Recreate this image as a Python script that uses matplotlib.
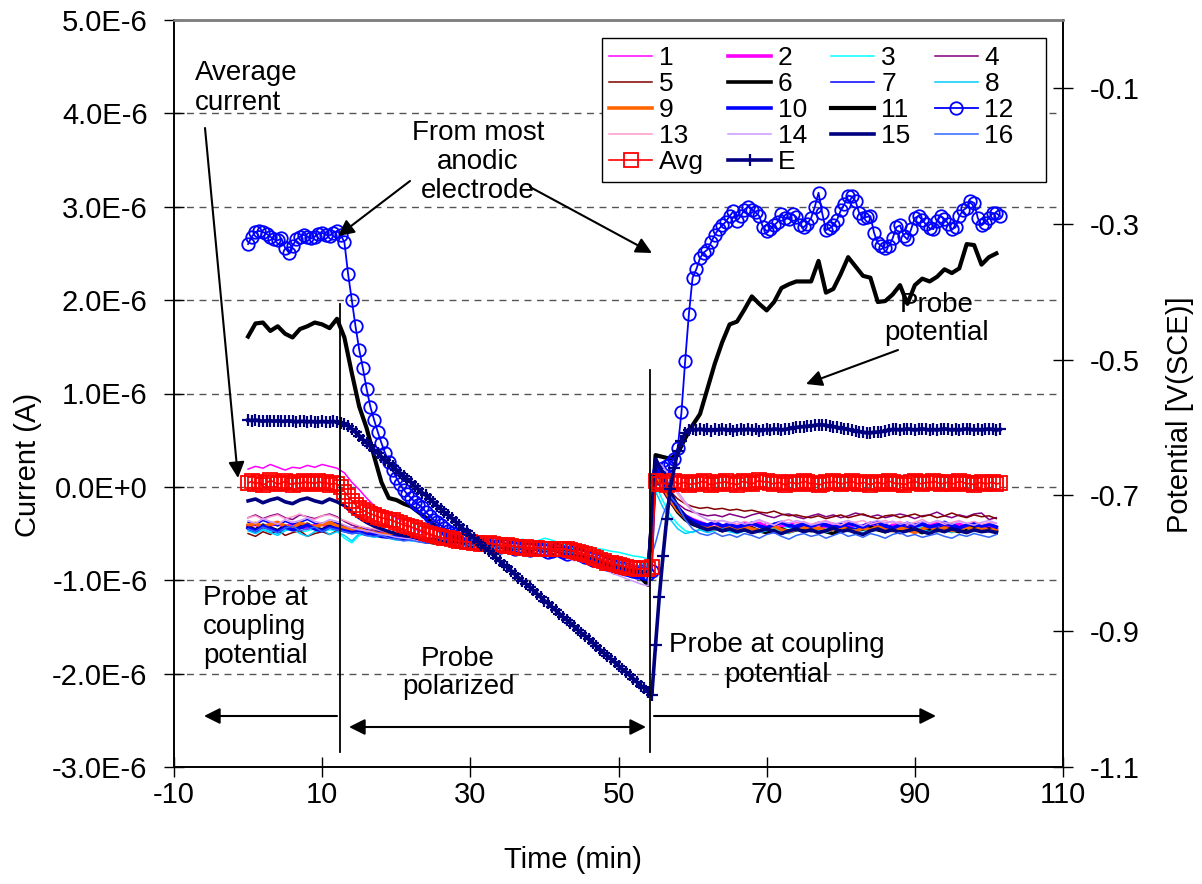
import numpy as np
import matplotlib
matplotlib.use("Agg")
import matplotlib.pyplot as plt
from matplotlib.lines import Line2D
from matplotlib.patches import Rectangle

plt.rcParams['font.family'] = ['Liberation Sans', 'DejaVu Sans']
plt.rcParams['legend.numpoints'] = 1

# ---------------- data ----------------
# time grids (min)
t1 = np.arange(0, 102, 1.0)      # 1-min samples, 0..101
t05 = np.arange(0, 102, 0.5)     # 0.5-min samples, 0..101.5

# electrode currents (uA), 1-min samples: 0..12 | 13..54 | 55..101
s1 = [0.19,0.22,0.20,0.24,0.21,0.18,0.21,0.20,0.23,0.21,0.24,0.22,0.20,
      0.15,0.05,-0.03,-0.12,-0.20,-0.25,-0.29,-0.33,-0.38,-0.43,-0.47,-0.50,-0.53,-0.55,-0.57,-0.56,-0.58,-0.60,-0.57,-0.59,-0.61,-0.60,-0.62,-0.61,-0.63,-0.60,-0.64,-0.62,-0.65,-0.64,-0.66,-0.65,-0.68,-0.70,-0.73,-0.75,-0.79,-0.82,-0.84,-0.86,-0.88,-0.87,
      0.12,-0.05,-0.18,-0.26,-0.32,-0.36,-0.38,-0.40,-0.37,-0.41,-0.39,-0.42,-0.38,-0.40,-0.43,-0.39,-0.41,-0.44,-0.40,-0.38,-0.42,-0.45,-0.41,-0.39,-0.43,-0.40,-0.38,-0.41,-0.44,-0.40,-0.42,-0.39,-0.37,-0.41,-0.43,-0.40,-0.38,-0.42,-0.45,-0.41,-0.39,-0.40,-0.43,-0.38,-0.41,-0.44,-0.42]
s2 = [-0.42,-0.40,-0.44,-0.41,-0.39,-0.43,-0.40,-0.42,-0.45,-0.41,-0.40,-0.43,-0.41,
      -0.43,-0.45,-0.44,-0.47,-0.49,-0.48,-0.51,-0.52,-0.54,-0.53,-0.56,-0.57,-0.56,-0.58,-0.60,-0.58,-0.61,-0.62,-0.60,-0.63,-0.61,-0.64,-0.62,-0.63,-0.66,-0.64,-0.63,-0.67,-0.65,-0.68,-0.67,-0.70,-0.69,-0.72,-0.75,-0.78,-0.80,-0.84,-0.86,-0.88,-0.90,-0.92,
      0.20,0.05,-0.12,-0.24,-0.31,-0.35,-0.38,-0.41,-0.39,-0.43,-0.40,-0.42,-0.44,-0.41,-0.39,-0.43,-0.45,-0.42,-0.40,-0.44,-0.41,-0.43,-0.46,-0.42,-0.40,-0.43,-0.41,-0.44,-0.42,-0.39,-0.43,-0.45,-0.41,-0.40,-0.44,-0.42,-0.45,-0.41,-0.39,-0.42,-0.44,-0.40,-0.43,-0.41,-0.44,-0.42,-0.45]
s3 = [-0.46,-0.49,-0.45,-0.48,-0.50,-0.46,-0.44,-0.49,-0.47,-0.45,-0.48,-0.46,-0.47,
      -0.55,-0.60,-0.52,-0.50,-0.53,-0.51,-0.54,-0.55,-0.53,-0.56,-0.57,-0.55,-0.58,-0.57,-0.59,-0.58,-0.56,-0.59,-0.60,-0.58,-0.57,-0.60,-0.59,-0.58,-0.56,-0.59,-0.58,-0.55,-0.57,-0.60,-0.62,-0.61,-0.63,-0.64,-0.66,-0.67,-0.69,-0.70,-0.72,-0.74,-0.75,-0.77,
      0.02,-0.15,-0.30,-0.40,-0.47,-0.49,-0.45,-0.47,-0.44,-0.46,-0.48,-0.45,-0.43,-0.47,-0.46,-0.44,-0.48,-0.45,-0.43,-0.46,-0.48,-0.44,-0.46,-0.45,-0.43,-0.47,-0.45,-0.44,-0.46,-0.48,-0.45,-0.43,-0.46,-0.44,-0.47,-0.45,-0.43,-0.46,-0.48,-0.44,-0.46,-0.45,-0.47,-0.44,-0.46,-0.48,-0.45]
s4 = [-0.33,-0.30,-0.34,-0.31,-0.29,-0.33,-0.35,-0.30,-0.32,-0.34,-0.31,-0.29,-0.32,
      -0.37,-0.41,-0.43,-0.44,-0.46,-0.48,-0.49,-0.50,-0.52,-0.53,-0.54,-0.55,-0.57,-0.58,-0.58,-0.60,-0.59,-0.61,-0.62,-0.60,-0.63,-0.62,-0.64,-0.63,-0.65,-0.64,-0.66,-0.65,-0.67,-0.66,-0.69,-0.70,-0.71,-0.73,-0.75,-0.78,-0.81,-0.84,-0.86,-0.88,-0.90,-0.91,
      0.15,0.02,-0.10,-0.18,-0.24,-0.27,-0.29,-0.31,-0.30,-0.32,-0.29,-0.31,-0.33,-0.30,-0.28,-0.31,-0.33,-0.30,-0.29,-0.32,-0.34,-0.31,-0.29,-0.32,-0.30,-0.33,-0.31,-0.28,-0.30,-0.32,-0.30,-0.33,-0.31,-0.29,-0.31,-0.34,-0.31,-0.30,-0.27,-0.31,-0.33,-0.30,-0.32,-0.29,-0.28,-0.35,-0.33]
s5 = [-0.50,-0.53,-0.48,-0.51,-0.46,-0.52,-0.49,-0.47,-0.53,-0.50,-0.48,-0.51,-0.47,
      -0.45,-0.47,-0.48,-0.50,-0.51,-0.52,-0.53,-0.55,-0.54,-0.56,-0.57,-0.58,-0.57,-0.59,-0.60,-0.61,-0.60,-0.62,-0.63,-0.62,-0.64,-0.63,-0.64,-0.66,-0.65,-0.66,-0.67,-0.66,-0.68,-0.69,-0.70,-0.71,-0.72,-0.74,-0.76,-0.79,-0.82,-0.84,-0.86,-0.88,-0.89,-0.90,
      0.18,0.08,-0.05,-0.13,-0.18,-0.21,-0.23,-0.22,-0.24,-0.23,-0.25,-0.24,-0.26,-0.25,-0.27,-0.28,-0.26,-0.29,-0.31,-0.30,-0.32,-0.33,-0.31,-0.34,-0.32,-0.30,-0.33,-0.31,-0.29,-0.32,-0.34,-0.31,-0.30,-0.33,-0.31,-0.29,-0.32,-0.30,-0.33,-0.31,-0.28,-0.31,-0.33,-0.30,-0.32,-0.31,-0.34]
s6 = [-0.43,-0.46,-0.41,-0.44,-0.47,-0.42,-0.45,-0.43,-0.40,-0.44,-0.46,-0.42,-0.44,
      -0.46,-0.48,-0.47,-0.50,-0.51,-0.53,-0.52,-0.55,-0.56,-0.55,-0.57,-0.58,-0.60,-0.59,-0.61,-0.62,-0.61,-0.63,-0.62,-0.64,-0.65,-0.63,-0.66,-0.65,-0.67,-0.66,-0.68,-0.67,-0.69,-0.70,-0.71,-0.70,-0.73,-0.75,-0.77,-0.80,-0.83,-0.86,-0.88,-0.90,-0.92,-0.95,
      0.10,-0.02,-0.15,-0.27,-0.35,-0.40,-0.43,-0.45,-0.44,-0.47,-0.45,-0.48,-0.46,-0.44,-0.47,-0.49,-0.46,-0.45,-0.48,-0.46,-0.44,-0.47,-0.45,-0.48,-0.50,-0.46,-0.44,-0.47,-0.45,-0.43,-0.46,-0.48,-0.45,-0.47,-0.44,-0.46,-0.49,-0.45,-0.47,-0.44,-0.46,-0.48,-0.45,-0.43,-0.47,-0.45,-0.48]
s7 = [-0.38,-0.41,-0.36,-0.39,-0.42,-0.37,-0.40,-0.38,-0.35,-0.39,-0.41,-0.37,-0.39,
      -0.42,-0.45,-0.43,-0.46,-0.48,-0.47,-0.50,-0.52,-0.51,-0.54,-0.55,-0.57,-0.56,-0.58,-0.57,-0.60,-0.59,-0.61,-0.63,-0.60,-0.62,-0.64,-0.61,-0.63,-0.65,-0.62,-0.64,-0.66,-0.64,-0.67,-0.68,-0.67,-0.70,-0.72,-0.74,-0.77,-0.79,-0.82,-0.85,-0.86,-0.88,-0.89,
      0.25,0.12,-0.05,-0.20,-0.30,-0.36,-0.40,-0.42,-0.39,-0.43,-0.41,-0.44,-0.40,-0.38,-0.42,-0.45,-0.41,-0.39,-0.43,-0.41,-0.38,-0.42,-0.44,-0.40,-0.42,-0.39,-0.43,-0.45,-0.41,-0.38,-0.42,-0.40,-0.43,-0.41,-0.44,-0.40,-0.38,-0.42,-0.44,-0.41,-0.39,-0.43,-0.40,-0.42,-0.44,-0.41,-0.43]
s8 = [-0.47,-0.50,-0.46,-0.49,-0.52,-0.47,-0.45,-0.50,-0.53,-0.48,-0.46,-0.51,-0.48,
      -0.52,-0.58,-0.50,-0.52,-0.54,-0.53,-0.55,-0.57,-0.56,-0.58,-0.57,-0.60,-0.59,-0.61,-0.60,-0.62,-0.61,-0.63,-0.62,-0.64,-0.63,-0.61,-0.64,-0.62,-0.60,-0.63,-0.61,-0.59,-0.62,-0.64,-0.65,-0.66,-0.67,-0.69,-0.70,-0.72,-0.74,-0.76,-0.78,-0.80,-0.81,-0.83,
      -0.05,-0.22,-0.35,-0.45,-0.50,-0.48,-0.46,-0.49,-0.47,-0.45,-0.48,-0.50,-0.47,-0.45,-0.49,-0.47,-0.44,-0.48,-0.50,-0.46,-0.48,-0.45,-0.47,-0.49,-0.46,-0.44,-0.48,-0.46,-0.49,-0.47,-0.45,-0.48,-0.46,-0.44,-0.47,-0.49,-0.46,-0.48,-0.45,-0.47,-0.49,-0.46,-0.44,-0.48,-0.46,-0.47,-0.49]
s9 = [-0.41,-0.39,-0.43,-0.40,-0.38,-0.42,-0.44,-0.39,-0.41,-0.43,-0.40,-0.38,-0.42,
      -0.44,-0.46,-0.45,-0.48,-0.49,-0.51,-0.50,-0.53,-0.54,-0.53,-0.56,-0.57,-0.58,-0.57,-0.60,-0.59,-0.61,-0.62,-0.61,-0.63,-0.62,-0.64,-0.63,-0.65,-0.64,-0.66,-0.65,-0.67,-0.66,-0.68,-0.69,-0.70,-0.71,-0.73,-0.76,-0.78,-0.81,-0.84,-0.86,-0.87,-0.89,-0.90,
      0.14,0.00,-0.14,-0.25,-0.33,-0.38,-0.41,-0.43,-0.45,-0.42,-0.44,-0.46,-0.43,-0.45,-0.47,-0.44,-0.42,-0.46,-0.48,-0.45,-0.43,-0.46,-0.44,-0.47,-0.45,-0.43,-0.46,-0.48,-0.44,-0.46,-0.43,-0.45,-0.47,-0.44,-0.46,-0.49,-0.45,-0.43,-0.46,-0.44,-0.47,-0.45,-0.43,-0.46,-0.44,-0.47,-0.45]
s10 = [-0.44,-0.47,-0.42,-0.45,-0.48,-0.43,-0.46,-0.44,-0.41,-0.45,-0.47,-0.43,-0.45,
       -0.47,-0.49,-0.48,-0.51,-0.50,-0.53,-0.54,-0.53,-0.56,-0.55,-0.57,-0.59,-0.58,-0.60,-0.59,-0.61,-0.60,-0.62,-0.61,-0.63,-0.60,-0.62,-0.64,-0.61,-0.63,-0.66,-0.62,-0.65,-0.68,-0.66,-0.69,-0.71,-0.70,-0.73,-0.75,-0.78,-0.82,-0.84,-0.87,-0.88,-0.90,-0.91,
       0.22,0.08,-0.10,-0.22,-0.31,-0.36,-0.39,-0.41,-0.38,-0.42,-0.40,-0.43,-0.41,-0.39,-0.42,-0.44,-0.40,-0.38,-0.41,-0.43,-0.40,-0.42,-0.39,-0.41,-0.44,-0.42,-0.39,-0.41,-0.43,-0.40,-0.38,-0.42,-0.44,-0.41,-0.39,-0.42,-0.40,-0.43,-0.41,-0.38,-0.42,-0.44,-0.41,-0.39,-0.42,-0.40,-0.43]
s11 = [1.61,1.75,1.76,1.67,1.72,1.64,1.60,1.69,1.72,1.76,1.74,1.70,1.80,
       1.60,1.22,0.86,0.63,0.33,0.05,-0.12,-0.14,-0.18,-0.21,-0.27,-0.33,-0.40,-0.46,-0.51,-0.55,-0.57,-0.60,-0.61,-0.63,-0.62,-0.64,-0.66,-0.65,-0.67,-0.68,-0.66,-0.69,-0.70,-0.68,-0.71,-0.73,-0.72,-0.76,-0.80,-0.83,-0.82,-0.86,-0.90,-0.94,-0.97,-1.05,
       0.34,0.32,0.30,0.36,0.52,0.66,0.78,1.05,1.32,1.55,1.74,1.77,1.90,2.04,1.96,1.89,1.98,2.13,2.17,2.20,2.20,2.20,2.42,2.08,2.12,2.28,2.46,2.36,2.26,2.24,1.98,1.99,2.06,2.16,1.96,2.16,2.23,2.20,2.25,2.33,2.29,2.34,2.60,2.59,2.38,2.46,2.50]
s13 = [-0.33,-0.31,-0.35,-0.32,-0.30,-0.34,-0.32,-0.29,-0.33,-0.35,-0.31,-0.30,-0.33,
       -0.36,-0.39,-0.42,-0.44,-0.45,-0.47,-0.49,-0.50,-0.52,-0.53,-0.55,-0.56,-0.55,-0.57,-0.59,-0.58,-0.60,-0.59,-0.61,-0.60,-0.62,-0.61,-0.63,-0.62,-0.64,-0.63,-0.65,-0.64,-0.66,-0.67,-0.68,-0.69,-0.70,-0.72,-0.74,-0.77,-0.80,-0.83,-0.85,-0.87,-0.88,-0.89,
       0.12,0.15,0.05,-0.08,-0.18,-0.26,-0.31,-0.35,-0.37,-0.36,-0.38,-0.40,-0.37,-0.39,-0.36,-0.38,-0.41,-0.37,-0.35,-0.39,-0.37,-0.40,-0.38,-0.36,-0.39,-0.41,-0.37,-0.38,-0.36,-0.40,-0.38,-0.36,-0.39,-0.37,-0.40,-0.38,-0.35,-0.39,-0.37,-0.40,-0.38,-0.36,-0.39,-0.37,-0.40,-0.38,-0.39]
s14 = [-0.36,-0.39,-0.34,-0.37,-0.40,-0.35,-0.38,-0.36,-0.33,-0.37,-0.39,-0.35,-0.37,
       -0.41,-0.44,-0.46,-0.47,-0.49,-0.51,-0.52,-0.54,-0.55,-0.56,-0.58,-0.57,-0.59,-0.61,-0.60,-0.62,-0.64,-0.62,-0.65,-0.63,-0.66,-0.68,-0.64,-0.67,-0.69,-0.66,-0.70,-0.72,-0.69,-0.73,-0.76,-0.79,-0.78,-0.82,-0.85,-0.88,-0.92,-0.95,-0.98,-1.01,-1.04,-1.06,
       0.28,0.22,0.10,-0.05,-0.16,-0.25,-0.31,-0.35,-0.38,-0.36,-0.39,-0.37,-0.40,-0.38,-0.35,-0.39,-0.41,-0.37,-0.39,-0.36,-0.38,-0.41,-0.39,-0.37,-0.40,-0.38,-0.36,-0.39,-0.42,-0.38,-0.36,-0.39,-0.37,-0.40,-0.38,-0.41,-0.37,-0.39,-0.36,-0.38,-0.40,-0.37,-0.39,-0.41,-0.38,-0.36,-0.39]
s15 = [-0.15,-0.13,-0.17,-0.14,-0.12,-0.16,-0.18,-0.14,-0.12,-0.15,-0.17,-0.13,-0.16,
       -0.20,-0.27,-0.33,-0.38,-0.42,-0.45,-0.48,-0.50,-0.52,-0.53,-0.55,-0.57,-0.56,-0.58,-0.60,-0.59,-0.61,-0.63,-0.62,-0.64,-0.63,-0.65,-0.64,-0.66,-0.65,-0.67,-0.66,-0.68,-0.67,-0.69,-0.70,-0.71,-0.73,-0.75,-0.77,-0.80,-0.83,-0.85,-0.87,-0.89,-0.91,-0.92,
       0.30,0.15,-0.05,-0.22,-0.33,-0.39,-0.43,-0.46,-0.44,-0.47,-0.45,-0.48,-0.46,-0.49,-0.47,-0.45,-0.48,-0.50,-0.47,-0.45,-0.48,-0.46,-0.49,-0.47,-0.44,-0.48,-0.46,-0.49,-0.51,-0.47,-0.45,-0.48,-0.46,-0.49,-0.47,-0.45,-0.48,-0.50,-0.46,-0.48,-0.45,-0.47,-0.49,-0.46,-0.48,-0.47,-0.49]
s16 = [-0.45,-0.48,-0.43,-0.46,-0.49,-0.44,-0.42,-0.47,-0.45,-0.43,-0.48,-0.44,-0.46,
       -0.48,-0.50,-0.49,-0.52,-0.53,-0.52,-0.55,-0.56,-0.58,-0.57,-0.59,-0.60,-0.59,-0.61,-0.62,-0.61,-0.63,-0.62,-0.64,-0.63,-0.65,-0.64,-0.63,-0.66,-0.65,-0.67,-0.66,-0.68,-0.67,-0.69,-0.70,-0.71,-0.72,-0.74,-0.76,-0.78,-0.80,-0.82,-0.83,-0.84,-0.85,-0.86,
       -0.60,-0.30,-0.10,-0.20,-0.35,-0.45,-0.50,-0.52,-0.49,-0.53,-0.51,-0.54,-0.50,-0.52,-0.55,-0.51,-0.49,-0.53,-0.56,-0.52,-0.50,-0.53,-0.51,-0.55,-0.52,-0.49,-0.53,-0.51,-0.54,-0.50,-0.52,-0.55,-0.51,-0.49,-0.53,-0.51,-0.54,-0.52,-0.50,-0.53,-0.55,-0.51,-0.53,-0.50,-0.52,-0.54,-0.51]

# 0.5-min samples: 0..12.0 | 12.5..54.5 | 55.0..101.5
s12 = [2.60,2.68,2.73,2.74,2.73,2.71,2.68,2.65,2.64,2.66,2.56,2.51,2.58,2.65,2.68,2.70,2.68,2.66,2.68,2.71,2.72,2.70,2.69,2.72,2.74,
       2.70,2.62,2.28,2.00,1.72,1.47,1.27,1.05,0.86,0.72,0.59,0.47,0.36,0.27,0.18,0.10,0.03,-0.03,-0.08,-0.12,
       -0.16,-0.19,-0.22,-0.27,-0.31,-0.35,-0.38,-0.41,-0.44,-0.47,-0.49,-0.51,-0.53,-0.55,-0.56,-0.58,-0.59,-0.60,-0.60,-0.61,
       -0.62,-0.61,-0.63,-0.64,-0.63,-0.62,-0.64,-0.66,-0.65,-0.64,-0.66,-0.68,-0.67,-0.65,-0.66,-0.68,-0.70,-0.69,-0.67,-0.68,
       -0.70,-0.72,-0.70,-0.69,-0.71,-0.73,-0.75,-0.76,-0.78,-0.77,-0.79,-0.81,-0.83,-0.84,-0.86,-0.85,-0.87,-0.88,-0.89,-0.90,
       -0.91,-0.90,-0.92,-0.93,-0.90,
       0.10,0.17,0.20,0.22,0.25,0.30,0.42,0.80,1.35,1.85,2.24,2.33,2.45,2.51,2.54,2.62,2.70,2.76,2.80,2.84,
       2.90,2.95,2.85,2.90,2.97,3.00,2.97,2.94,2.90,2.78,2.74,2.76,2.80,2.84,2.92,2.88,2.87,2.92,2.89,2.80,
       2.78,2.82,2.88,3.00,3.15,2.93,2.75,2.77,2.80,2.86,2.96,3.03,3.12,3.11,3.06,2.93,2.88,2.89,2.90,2.72,
       2.61,2.58,2.56,2.58,2.66,2.78,2.80,2.69,2.65,2.76,2.88,2.90,2.86,2.81,2.77,2.76,2.85,2.90,2.87,2.82,
       2.76,2.78,2.90,2.96,2.99,3.06,3.04,2.88,2.80,2.83,2.88,2.93,2.93,2.90]
avg = [0.04,0.06,0.03,0.05,0.02,0.04,0.07,0.05,0.03,0.04,0.06,0.04,0.02,0.05,0.03,0.06,0.04,0.05,0.03,0.06,0.04,0.05,0.02,0.04,0.03,
       0.00,-0.05,-0.10,-0.15,-0.19,-0.23,-0.25,-0.27,-0.29,-0.30,-0.32,-0.33,-0.34,-0.35,-0.36,-0.38,-0.39,-0.41,-0.42,-0.43,
       -0.44,-0.46,-0.47,-0.49,-0.50,-0.52,-0.53,-0.54,-0.55,-0.55,-0.56,-0.57,-0.58,-0.58,-0.59,-0.59,-0.60,-0.60,-0.61,-0.61,
       -0.60,-0.61,-0.62,-0.62,-0.63,-0.62,-0.63,-0.64,-0.64,-0.65,-0.64,-0.66,-0.65,-0.65,-0.66,-0.66,-0.67,-0.66,-0.67,-0.67,
       -0.66,-0.67,-0.68,-0.69,-0.70,-0.71,-0.72,-0.73,-0.75,-0.76,-0.78,-0.79,-0.81,-0.82,-0.83,-0.84,-0.85,-0.86,-0.87,-0.87,
       -0.88,-0.88,-0.87,-0.88,-0.86,
       0.06,0.03,0.05,0.02,0.04,0.06,0.03,0.04,0.05,0.02,0.04,0.03,0.05,0.06,0.04,0.02,0.03,0.05,0.04,0.06,
       0.03,0.04,0.02,0.05,0.06,0.04,0.03,0.05,0.07,0.05,0.06,0.04,0.03,0.05,0.04,0.02,0.04,0.05,0.03,0.04,
       0.06,0.05,0.03,0.04,0.02,0.03,0.05,0.04,0.06,0.05,0.03,0.04,0.05,0.06,0.04,0.03,0.05,0.04,0.02,0.04,
       0.05,0.03,0.04,0.06,0.05,0.03,0.04,0.02,0.04,0.05,0.06,0.04,0.03,0.05,0.04,0.06,0.05,0.03,0.04,0.05,
       0.03,0.04,0.06,0.05,0.03,0.04,0.02,0.04,0.05,0.03,0.04,0.05,0.03,0.04]
# probe potential E (V vs SCE), 0.5-min samples
E = [-0.589,-0.590,-0.589,-0.590,-0.591,-0.590,-0.590,-0.591,-0.590,-0.591,-0.591,-0.590,-0.591,-0.592,-0.591,-0.591,-0.592,-0.591,-0.592,-0.592,-0.591,-0.592,-0.592,-0.591,-0.592,
     -0.593,-0.595,-0.598,-0.602,-0.607,-0.612,-0.618,-0.623,-0.628,-0.633,-0.638,-0.643,-0.648,-0.653,-0.657,-0.662,-0.667,-0.672,-0.676,-0.681,
     -0.686,-0.691,-0.696,-0.700,-0.705,-0.710,-0.715,-0.720,-0.725,-0.729,-0.734,-0.739,-0.744,-0.749,-0.753,-0.758,-0.763,-0.768,-0.773,-0.778,
     -0.782,-0.787,-0.792,-0.797,-0.802,-0.806,-0.811,-0.816,-0.821,-0.826,-0.830,-0.835,-0.840,-0.845,-0.850,-0.855,-0.859,-0.864,-0.869,-0.874,
     -0.879,-0.883,-0.888,-0.893,-0.898,-0.903,-0.907,-0.912,-0.917,-0.922,-0.927,-0.932,-0.936,-0.941,-0.946,-0.951,-0.956,-0.960,-0.965,-0.970,
     -0.975,-0.980,-0.984,-0.989,-0.994,
     -0.920,-0.850,-0.790,-0.735,-0.690,-0.660,-0.635,-0.620,-0.608,-0.604,-0.603,-0.604,-0.602,-0.604,-0.603,-0.605,-0.603,-0.604,-0.602,-0.604,
     -0.603,-0.605,-0.604,-0.603,-0.604,-0.602,-0.604,-0.603,-0.605,-0.604,-0.603,-0.604,-0.602,-0.603,-0.604,-0.603,-0.602,-0.601,-0.600,-0.599,
     -0.599,-0.598,-0.598,-0.597,-0.596,-0.596,-0.597,-0.598,-0.599,-0.600,-0.601,-0.602,-0.603,-0.604,-0.605,-0.606,-0.607,-0.608,-0.608,-0.607,
     -0.607,-0.606,-0.605,-0.604,-0.603,-0.603,-0.604,-0.603,-0.602,-0.603,-0.604,-0.603,-0.602,-0.603,-0.604,-0.603,-0.604,-0.603,-0.602,-0.603,
     -0.604,-0.603,-0.604,-0.603,-0.602,-0.603,-0.604,-0.603,-0.604,-0.603,-0.602,-0.603,-0.604,-0.603]

x_ticks = [-10, 10, 30, 50, 70, 90, 110]
y_ticks = [-3, -2, -1, 0, 1, 2, 3, 4, 5]
y_tick_labels = ["-3.0E-6", "-2.0E-6", "-1.0E-6", "0.0E+0", "1.0E-6", "2.0E-6", "3.0E-6", "4.0E-6", "5.0E-6"]
e_ticks = [-1.1, -0.9, -0.7, -0.5, -0.3, -0.1]
e_tick_labels = ["-1.1", "-0.9", "-0.7", "-0.5", "-0.3", "-0.1"]

# ---------------- figure ----------------
W, H = 1202, 884
fig = plt.figure(figsize=(W / 100, H / 100), dpi=100)
L, R, T, B = 174, 1063, 20, 767
ax = fig.add_axes([L / W, 1 - B / H, (R - L) / W, (B - T) / H])
ax2 = ax.twinx()

def draw(a, t, y, **kw):
    n = min(len(t), len(y))
    return a.plot(t[:n], y[:n], **kw)[0]

thin, thick = 1.1, 2.6
styles = {
    1: dict(color='#FF00FF', lw=thin), 2: dict(color='#FF00FF', lw=thick),
    3: dict(color='#00FFFF', lw=thin), 4: dict(color='#800080', lw=thin),
    5: dict(color='#800000', lw=thin), 6: dict(color='black', lw=thick),
    7: dict(color='#0000FF', lw=thin), 8: dict(color='#00CCFF', lw=thin),
    9: dict(color='#FF6600', lw=thick), 10: dict(color='#0000FF', lw=thick),
    11: dict(color='black', lw=3.0), 13: dict(color='#FF99CC', lw=thin),
    14: dict(color='#CC99FF', lw=thin), 15: dict(color='#000080', lw=thick),
    16: dict(color='#3366FF', lw=thin),
}
series = {1: s1, 2: s2, 3: s3, 4: s4, 5: s5, 6: s6, 7: s7, 8: s8, 9: s9, 10: s10,
          11: s11, 13: s13, 14: s14, 15: s15, 16: s16}
h = {}
for k in [1, 2, 3, 4, 5, 6, 7, 8, 9, 10, 11]:
    h[k] = draw(ax, t1, series[k], label=str(k), **styles[k])
h[12] = draw(ax, t05, s12, label='12', color='#0000FF', lw=1.3, marker='o', ms=9,
             mfc='none', mec='#0000FF', mew=1.3)
for k in [13, 14, 15, 16]:
    h[k] = draw(ax, t1, series[k], label=str(k), **styles[k])
h['Avg'] = draw(ax, t05, avg, label='Avg', color='#FF0000', lw=1.2, marker='s', ms=9.5,
                mfc='none', mec='#FF0000', mew=1.3)
h['E'] = draw(ax2, t05, E, label='E', color='#000080', lw=2.6, marker='+', ms=9, mew=1.6)

ax.set_xlim(-10, 110)
ax.set_ylim(-3, 5)
ax2.set_ylim(-1.1, 0.0)
ax.set_xticks(x_ticks)
ax.set_xticklabels([str(v) for v in x_ticks])
ax.set_yticks(y_ticks)
ax.set_yticklabels(y_tick_labels)
ax2.set_yticks(e_ticks)
ax2.set_yticklabels(e_tick_labels)

ax.set_axisbelow(True)
ax.yaxis.grid(True, linestyle=(0, (5, 4)), color='#555555', lw=1.0)
ax.tick_params(axis='y', direction='inout', length=14, width=1, labelsize=21, pad=12)
ax.tick_params(axis='x', direction='inout', length=14, width=1, labelsize=21, pad=3)
ax2.tick_params(axis='y', direction='inout', length=14, width=1, labelsize=21, pad=12)
for a in (ax, ax2):
    for s in ('left', 'right', 'bottom'):
        a.spines[s].set_color('black')
        a.spines[s].set_linewidth(1.2)
    a.spines['top'].set_color('#808080')
    a.spines['top'].set_linewidth(1.8)

ax.set_xlabel('Time (min)', fontsize=21)
ax.set_ylabel('Current (A)', fontsize=21)
ax2.set_ylabel('Potential [V(SCE)]', fontsize=21, rotation=90)
ax.xaxis.set_label_coords((573 - L) / (R - L), (B - 860) / (B - T))
ax.yaxis.set_label_coords((28 - L) / (R - L), (B - 465) / (B - T))
ax2.yaxis.set_label_coords((1180 - L) / (R - L), (B - 415) / (B - T))
for lab in (ax.xaxis.label, ax.yaxis.label, ax2.yaxis.label):
    lab.set_va('center')
    lab.set_ha('center')

# legend (row-wise order in 4 columns), with a separate fixed-size frame
frame = Rectangle((602 / W, 1 - 182 / H), 444 / W, 144 / H, transform=fig.transFigure,
                  facecolor='white', edgecolor='black', lw=1.0, zorder=4)
ax2.add_artist(frame)
order = [1, 5, 9, 13, 'Avg', 2, 6, 10, 14, 'E', 3, 7, 11, 15, 4, 8, 12, 16]
fs_leg = 19
em = fs_leg * 100 / 72
leg = ax2.legend([h[k] for k in order], [str(k) for k in order], ncol=4,
                 loc='upper left', bbox_to_anchor=(609 / W, 1 - 46 / H),
                 bbox_transform=fig.transFigure, fontsize=fs_leg, frameon=False,
                 borderpad=0, labelspacing=0.08, handlelength=43 / em,
                 handletextpad=7 / em, columnspacing=24 / em, borderaxespad=0)
leg.set_zorder(5)

# annotations
def fp(x, y):
    return (x, H - y)

arr = dict(arrowstyle='-|>', color='black', lw=1.5, mutation_scale=24,
           shrinkA=0, shrinkB=0)
arr2 = dict(arrowstyle='<|-|>', color='black', lw=1.5, mutation_scale=24,
            shrinkA=0, shrinkB=0)
kw = dict(xycoords='figure pixels', textcoords='figure pixels')
ax2.annotate('', xy=fp(238, 478), xytext=fp(205, 128), arrowprops=arr, **kw)
ax2.annotate('', xy=fp(338, 236), xytext=fp(410, 181), arrowprops=arr, **kw)
ax2.annotate('', xy=fp(652, 253), xytext=fp(530, 187), arrowprops=arr, **kw)
ax2.annotate('', xy=fp(806, 384), xytext=fp(898, 350), arrowprops=arr, **kw)
ax2.annotate('', xy=fp(204, 716), xytext=fp(337, 716), arrowprops=arr, **kw)
ax2.annotate('', xy=fp(349, 727), xytext=fp(646, 727), arrowprops=arr2, **kw)
ax2.annotate('', xy=fp(936, 716), xytext=fp(654, 716), arrowprops=arr, **kw)

fig.add_artist(Line2D([340 / W, 340 / W], [1 - 304 / H, 1 - 752 / H], color='black', lw=1.3))
fig.add_artist(Line2D([650 / W, 650 / W], [1 - 370 / H, 1 - 752 / H], color='black', lw=1.3))

tk = dict(fontsize=20, linespacing=1.15)
fig.text(195 / W, 1 - 88 / H, 'Average\ncurrent', ha='left', va='center', **tk)
fig.text(478 / W, 1 - 162 / H, 'From most\nanodic\nelectrode', ha='center', va='center', **tk)
fig.text(937 / W, 1 - 319 / H, 'Probe\npotential', ha='center', va='center', **tk)
fig.text(203 / W, 1 - 627 / H, 'Probe at\ncoupling\npotential', ha='left', va='center', **tk)
fig.text(458 / W, 1 - 673 / H, 'Probe\npolarized', ha='center', va='center', **tk)
fig.text(777 / W, 1 - 660 / H, 'Probe at coupling\npotential', ha='center', va='center', **tk)

fig.savefig('out.png', dpi=100)
